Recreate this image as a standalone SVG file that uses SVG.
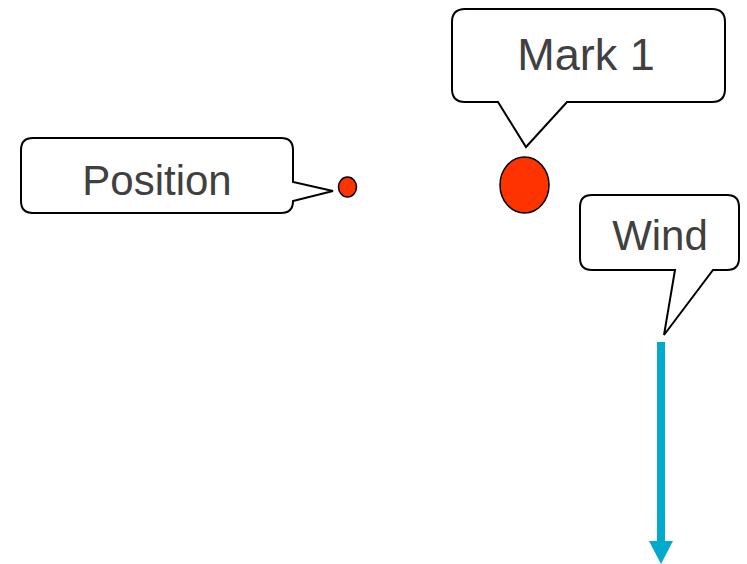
<svg xmlns="http://www.w3.org/2000/svg" width="747" height="564" viewBox="0 0 747 564">
<style>
.callout{fill:#fff;stroke:#000;stroke-width:2;stroke-linejoin:miter}
.lbl{font-family:"Liberation Sans",Arial,sans-serif;fill:#404040;text-anchor:middle}
.dot{fill:#ff3300;stroke:#000;stroke-width:1.5}
</style>
<rect width="747" height="564" fill="#fff"/>
<g id="position">
<path class="callout" d="M33,138 H281 Q293,138 293,150 V182 L333,191 L293,201 Q293,213 281,213 H33 Q21,213 21,201 V150 Q21,138 33,138 Z"/>
<text class="lbl" x="157" y="195" font-size="42">Position</text>
</g>
<g id="position-dot"><ellipse class="dot" cx="347.5" cy="187" rx="9" ry="10"/></g>
<g id="mark1">
<path class="callout" d="M465,9 H712 Q725,9 725,22 V89 Q725,102 712,102 H567 L526,147 L498,102 H465 Q452,102 452,89 V22 Q452,9 465,9 Z"/>
<text class="lbl" x="586" y="70" font-size="45">Mark 1</text>
</g>
<g id="mark1-dot"><ellipse class="dot" cx="524.5" cy="185" rx="24.5" ry="28"/></g>
<g id="wind">
<path class="callout" d="M592,195 H727 Q739,195 739,207 V258 Q739,270 727,270 H713 L664,335 L675,270 H592 Q580,270 580,258 V207 Q580,195 592,195 Z"/>
<text class="lbl" x="660" y="250" font-size="42">Wind</text>
</g>
<g id="connectors">
<line x1="661" y1="342" x2="661" y2="542" stroke="#00aacc" stroke-width="8"/>
<polygon points="649,541 673,541 661,564" fill="#00aacc"/>
</g>
</svg>
